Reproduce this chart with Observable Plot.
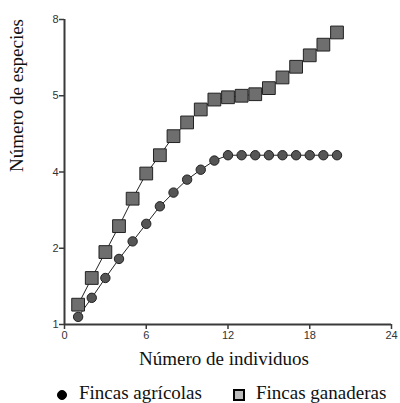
<!DOCTYPE html>
<html>
<head>
<meta charset="utf-8">
<script src="https://cdn.jsdelivr.net/npm/d3@7"></script>
<script src="https://cdn.jsdelivr.net/npm/@observablehq/plot@0.6"></script>
<style>
  html, body { margin: 0; padding: 0; background: #fff; }
  #wrap { position: relative; width: 400px; height: 403px; overflow: hidden; }
  #legend { position: absolute; left: 0; top: 380px; width: 400px; height: 23px;
            font-family: "Liberation Serif", "Times New Roman", serif; font-size: 19px; color: #111; }
  .item { position: absolute; top: 0; height: 21px; line-height: 21px; white-space: nowrap; }
  .sym { position: absolute; box-sizing: border-box; }
</style>
</head>
<body>
<div id="wrap">
  <div id="chart"></div>
  <div id="legend"></div>
</div>
<script>
// Data
const individuos = [1, 2, 3, 4, 5, 6, 7, 8, 9, 10, 11, 12, 13, 14, 15, 16, 17, 18, 19, 20];
const agricolas = [1.10, 1.35, 1.61, 1.86, 2.09, 2.32, 2.55, 2.73, 2.90, 3.03, 3.15, 3.22, 3.22, 3.22, 3.22, 3.22, 3.22, 3.22, 3.22, 3.22];
const ganaderas = [1.26, 1.61, 1.95, 2.29, 2.65, 2.98, 3.22, 3.47, 3.65, 3.82, 3.95, 3.98, 4.00, 4.02, 4.10, 4.24, 4.38, 4.53, 4.67, 4.83];
const xTicks = [0, 6, 12, 18, 24];
const yTicks = [1, 2, 3, 4, 5];
const yTickLabels = ["1", "2", "4", "5", "8"];
const seriesNames = ["Fincas agrícolas", "Fincas ganaderas"];
const xLabel = "Número de individuos";
const yLabel = "Número de especies";

const agr = individuos.map((x, i) => ({x, y: agricolas[i]}));
const gan = individuos.map((x, i) => ({x, y: ganaderas[i]}));

const serif = "Liberation Serif, Times New Roman, serif";
const axisColor = "#3a3a3a";

const chart = Plot.plot({
  width: 400,
  height: 380,
  marginLeft: 64,
  marginRight: 9,
  marginTop: 19,
  marginBottom: 56,
  style: { fontFamily: "Liberation Sans, Arial, sans-serif", fontSize: "11px", color: "#333", background: "#fff", overflow: "visible" },
  x: { domain: [0, 24] },
  y: { domain: [1, 5] },
  marks: [
    Plot.axisX({ ticks: xTicks, tickSize: 5, tickPadding: 2, label: null, stroke: axisColor, strokeWidth: 1.5 }),
    Plot.axisY({ ticks: yTicks, tickSize: 5, tickPadding: 1, label: null, stroke: axisColor, strokeWidth: 1.5,
                 tickFormat: (d) => yTickLabels[yTicks.indexOf(d)] }),
    Plot.ruleX([0], { stroke: axisColor, strokeWidth: 2 }),
    Plot.ruleY([1], { stroke: axisColor, strokeWidth: 2 }),
    Plot.line(agr, { x: "x", y: "y", stroke: "#222", strokeWidth: 1 }),
    Plot.line(gan, { x: "x", y: "y", stroke: "#222", strokeWidth: 1 }),
    Plot.dot(agr, { x: "x", y: "y", r: 4.7, fill: "#555", stroke: "#222", strokeWidth: 1 }),
    Plot.dot(gan, { x: "x", y: "y", r: 7.2, symbol: "square", fill: "#6e6e6e", stroke: "#222", strokeWidth: 1 }),
    Plot.text([xLabel], { frameAnchor: "bottom", dy: 34, dx: -4, lineAnchor: "middle", fontFamily: serif, fontSize: 19, fill: "#111" }),
    Plot.text([yLabel], { frameAnchor: "left", dx: -48, rotate: -90, lineAnchor: "middle", fontFamily: serif, fontSize: 19, fill: "#111" })
  ]
});
document.getElementById("chart").appendChild(chart);

// Legend
const legend = document.getElementById("legend");
const items = [
  { name: seriesNames[0], symLeft: 57, size: 10, radius: "50%", fill: "#000", border: "1px solid #000", textLeft: 79 },
  { name: seriesNames[1], symLeft: 233, size: 12, radius: "0", fill: "#bbb", border: "2px solid #000", textLeft: 256 }
];
items.forEach(it => {
  const s = document.createElement("div");
  s.className = "sym";
  s.style.left = it.symLeft + "px";
  s.style.top = (15 - it.size / 2) + "px";
  s.style.width = it.size + "px";
  s.style.height = it.size + "px";
  s.style.borderRadius = it.radius;
  s.style.background = it.fill;
  s.style.border = it.border;
  legend.appendChild(s);
  const t = document.createElement("div");
  t.className = "item";
  t.style.left = it.textLeft + "px";
  t.style.top = "2px";
  t.textContent = it.name;
  legend.appendChild(t);
});
</script>
</body>
</html>
